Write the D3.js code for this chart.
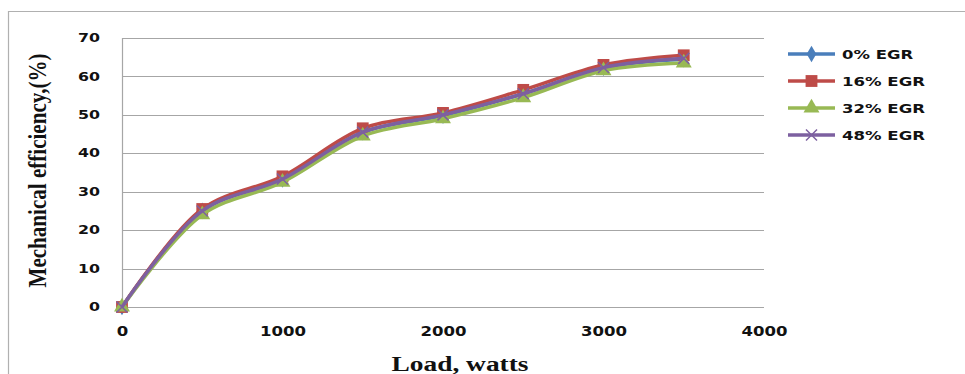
<!DOCTYPE html>
<html>
<head>
<meta charset="utf-8">
<script src="https://cdn.jsdelivr.net/npm/d3@7/dist/d3.min.js"></script>
<style>
  html, body { margin: 0; padding: 0; background: #fff; }
  svg { display: block; }
</style>
</head>
<body>
<svg id="chart" width="965" height="374"></svg>
<script>
// Load steps (watts)
const loads = [0, 500, 1000, 1500, 2000, 2500, 3000, 3500];

// Mechanical efficiency (%) for each EGR rate
const egr0  = [0, 25, 33.2, 45.5, 49.8, 55.5, 62.3, 64.5];
const egr16 = [0, 25.5, 34, 46.5, 50.5, 56.5, 63, 65.5];
const egr32 = [0, 24, 32.5, 44.5, 49, 54.5, 61.5, 63.5];
const egr48 = [0, 25, 33.3, 45.5, 50, 55.5, 62.3, 64.7];

const seriesNames = ["0% EGR", "16% EGR", "32% EGR", "48% EGR"];
const xTicks = [0, 1000, 2000, 3000, 4000];
const yTicks = [0, 10, 20, 30, 40, 50, 60, 70];

const series = [
  { name: seriesNames[0], values: egr0,  color: "#4a7ebb", marker: "diamond" },
  { name: seriesNames[1], values: egr16, color: "#be4b48", marker: "square" },
  { name: seriesNames[2], values: egr32, color: "#98b954", marker: "triangle" },
  { name: seriesNames[3], values: egr48, color: "#7d60a0", marker: "cross" }
];

const svg = d3.select("#chart");
const margin = { left: 122, top: 38, right: 764, bottom: 307 };

const x = d3.scaleLinear().domain([0, 4000]).range([margin.left, margin.right]);
const y = d3.scaleLinear().domain([0, 70]).range([margin.bottom, margin.top]);

// Outer chart frame
svg.append("path")
  .attr("d", "M8.5,374 V11.5 H965")
  .attr("fill", "none").attr("stroke", "#b0b0b0").attr("stroke-width", 1.2);

// Horizontal gridlines
svg.append("g").selectAll("line").data(yTicks).join("line")
  .attr("x1", margin.left).attr("x2", margin.right)
  .attr("y1", d => Math.round(y(d)) + 0.5).attr("y2", d => Math.round(y(d)) + 0.5)
  .attr("stroke", "#a6a6a6").attr("stroke-width", 1.2);

// Vertical axis line
svg.append("line")
  .attr("x1", margin.left + 0.5).attr("x2", margin.left + 0.5)
  .attr("y1", margin.top).attr("y2", margin.bottom + 3)
  .attr("stroke", "#a6a6a6").attr("stroke-width", 1.2);

const tickFont = "'DejaVu Sans', Verdana, sans-serif";
const titleFont = "'Liberation Serif', 'Times New Roman', serif";

// Y-axis tick labels (wide, blocky digits)
const yAxis = d3.axisLeft(y).tickValues(yTicks).tickFormat(d3.format("d")).tickSize(0).tickPadding(0);
const gy = svg.append("g").attr("transform", `translate(${margin.left - 22},0)`).call(yAxis);
gy.select(".domain").remove();
gy.selectAll("text")
  .attr("font-family", tickFont).attr("font-weight", "bold")
  .attr("font-size", 11.5).attr("fill", "#111")
  .attr("textLength", function () { return this.textContent.length * 11; })
  .attr("lengthAdjust", "spacingAndGlyphs");

// X-axis tick labels
const xAxis = d3.axisBottom(x).tickValues(xTicks).tickFormat(d3.format("d")).tickSize(0).tickPadding(0);
const gx = svg.append("g").attr("transform", `translate(0,${margin.bottom + 19})`).call(xAxis);
gx.select(".domain").remove();
gx.selectAll("text")
  .attr("font-family", tickFont).attr("font-weight", "bold")
  .attr("font-size", 14).attr("fill", "#111")
  .attr("textLength", function () { return this.textContent.length * 11.5; })
  .attr("lengthAdjust", "spacingAndGlyphs");

// Axis titles
svg.append("text")
  .attr("x", 460).attr("y", 371)
  .attr("text-anchor", "middle")
  .attr("font-family", titleFont)
  .attr("font-weight", "bold").attr("font-size", 20).attr("fill", "#111")
  .attr("textLength", 137).attr("lengthAdjust", "spacingAndGlyphs")
  .text("Load, watts");

svg.append("text")
  .attr("transform", `translate(46,170.5) rotate(-90)`)
  .attr("text-anchor", "middle")
  .attr("font-family", titleFont)
  .attr("font-weight", "bold").attr("font-size", 25).attr("fill", "#111")
  .attr("textLength", 234).attr("lengthAdjust", "spacingAndGlyphs")
  .text("Mechanical efficiency,(%)");

// Marker shapes
function markerPath(type) {
  switch (type) {
    case "diamond":  return d3.symbol().type(d3.symbolDiamond).size(80)();
    case "square":   return d3.symbol().type(d3.symbolSquare).size(140)();
    case "triangle": return d3.symbol().type(d3.symbolTriangle).size(110)();
    case "cross":    return "M-5.5,-5.5L5.5,5.5M-5.5,5.5L5.5,-5.5";
  }
}

const line = d3.line()
  .x((d, i) => x(loads[i]))
  .y(d => y(d))
  .curve(d3.curveCatmullRom.alpha(0.5));

const plot = svg.append("g");
series.forEach(s => {
  const g = plot.append("g");
  g.append("path")
    .attr("d", line(s.values))
    .attr("fill", "none").attr("stroke", s.color)
    .attr("stroke-width", 3.5).attr("stroke-linejoin", "round");
  g.selectAll("path.m").data(s.values).join("path")
    .attr("class", "m")
    .attr("transform", (d, i) => `translate(${x(loads[i])},${y(d)})`)
    .attr("d", markerPath(s.marker))
    .attr("fill", s.marker === "cross" ? "none" : s.color)
    .attr("stroke", s.marker === "cross" ? s.color : "none")
    .attr("stroke-width", 1.5);
});

// Legend
const legend = svg.append("g");
const legendRows = [54, 81, 108, 135];
series.forEach((s, i) => {
  const g = legend.append("g").attr("transform", `translate(0,${legendRows[i]})`);
  g.append("line")
    .attr("x1", 788).attr("x2", 835).attr("y1", 0).attr("y2", 0)
    .attr("stroke", s.color).attr("stroke-width", 3.5);
  g.append("path")
    .attr("transform", "translate(811.5,0)")
    .attr("d", markerPath(s.marker))
    .attr("fill", s.marker === "cross" ? "none" : s.color)
    .attr("stroke", s.marker === "cross" ? s.color : "none")
    .attr("stroke-width", 1.5);
  g.append("text")
    .attr("x", 842).attr("y", 4.5)
    .attr("font-family", tickFont).attr("font-weight", "bold")
    .attr("font-size", 12.5).attr("fill", "#111")
    .attr("textLength", s.name.length * 11.85).attr("lengthAdjust", "spacingAndGlyphs")
    .text(s.name);
});
</script>
</body>
</html>
